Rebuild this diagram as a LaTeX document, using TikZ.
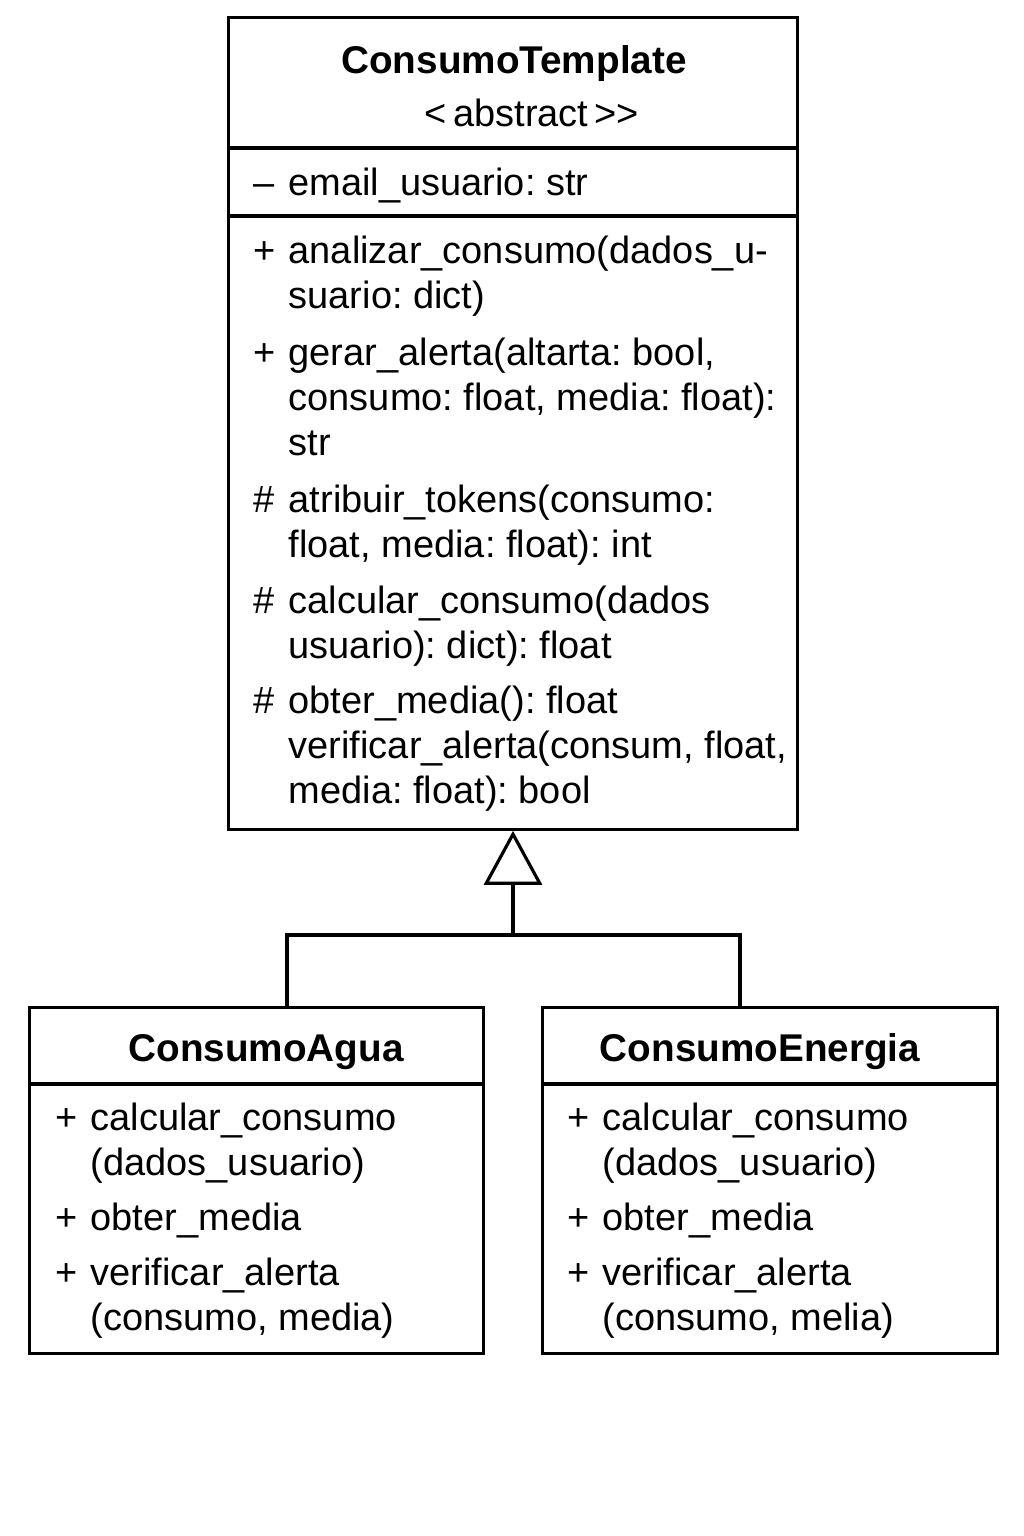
\documentclass[tikz,border=0pt]{standalone}
\usepackage{fontspec}
\setmainfont{Liberation Sans}[Ligatures=TeXOff]
\usetikzlibrary{arrows.meta,positioning}
\frenchspacing

% one class member: visibility marker, then the (wrapped) text
\newcommand{\member}[2]{\begin{tabular}[t]{@{}p{0.35cm}@{}l@{}}#1 & #2\end{tabular}}

\begin{document}
\begin{tikzpicture}[
        x=0.01cm, y=-0.01cm,
        every node/.style={font=\fontsize{10.8}{12.8}\selectfont, inner sep=0pt},
        classbox/.style={rectangle, draw, line width=0.9pt},
        title/.style={anchor=base, font=\fontsize{11}{12.8}\selectfont\bfseries},
        entry/.style={anchor=base west},
        inherit/.style={line width=0.9pt, -{Triangle[open, length=0.54cm, width=0.58cm]}}
    ]
        \useasboundingbox (0,0) rectangle (1024,1536);

        % abstract class
        \node[classbox, minimum width=5.68cm, minimum height=8.11cm] (tmpl) at (513,423.5) {};
        \draw[line width=0.9pt] (tmpl.west |- 0,148) -- (tmpl.east |- 0,148);
        \draw[line width=0.9pt] (tmpl.west |- 0,216) -- (tmpl.east |- 0,216);
        \node[title] (tmplName) at (514,73) {ConsumoTemplate};
        \node[anchor=base] (tmplStereo) at (532,126) {<\,abstract\,>>};
        \node[entry] (tmplAttr) at (253,195) {\member{–}{email\_usuario: str}};
        \node[entry] (tmplAnalisar) at (253,263) {\member{+}{analizar\_consumo(dados\_u-\\ & suario: dict)}};
        \node[entry] (tmplAlerta) at (253,365) {\member{+}{gerar\_alerta(altarta: bool,\\ & consumo: float, media: float):\\ & str}};
        \node[entry] (tmplTokens) at (253,512) {\member{\#}{atribuir\_tokens(consumo:\\ & float, media: float): int}};
        \node[entry] (tmplCalc) at (253,613) {\member{\#}{calcular\_consumo(dados\\ & usuario): dict): float}};
        \node[entry] (tmplMedia) at (253,713) {\member{\#}{obter\_media(): float\\ & verificar\_alerta(consum, float,\\ & media: float): bool}};

        % subclasses
        \node[classbox, minimum width=4.53cm, minimum height=3.45cm] (agua) at (256.5,1180.5) {};
        \draw[line width=0.9pt] (agua.west |- 0,1084) -- (agua.east |- 0,1084);
        \node[title] (aguaName) at (266,1061) {ConsumoAgua};
        \node[entry] (aguaCalc) at (55,1130) {\member{+}{calcular\_consumo\\ & (dados\_usuario)}};
        \node[entry] (aguaMedia) at (55,1230) {\member{+}{obter\_media}};
        \node[entry] (aguaAlerta) at (55,1285) {\member{+}{verificar\_alerta\\ & (consumo, media)}};

        \node[classbox, minimum width=4.54cm, minimum height=3.45cm] (energia) at (770,1180.5) {};
        \draw[line width=0.9pt] (energia.west |- 0,1084) -- (energia.east |- 0,1084);
        \node[title] (energiaName) at (760,1061) {ConsumoEnergia};
        \node[entry] (energiaCalc) at (567,1130) {\member{+}{calcular\_consumo\\ & (dados\_usuario)}};
        \node[entry] (energiaMedia) at (567,1230) {\member{+}{obter\_media}};
        \node[entry] (energiaAlerta) at (567,1285) {\member{+}{verificar\_alerta\\ & (consumo, melia)}};

        % generalization
        \coordinate (joint) at (513,935);
        \coordinate (aguaTop) at (287,1008);
        \coordinate (energiaTop) at (740,1008);
        \draw[inherit] (joint) -- (tmpl.south);
        \draw[line width=0.9pt] (aguaTop) |- (joint) -| (energiaTop);
    \end{tikzpicture}
\end{document}
